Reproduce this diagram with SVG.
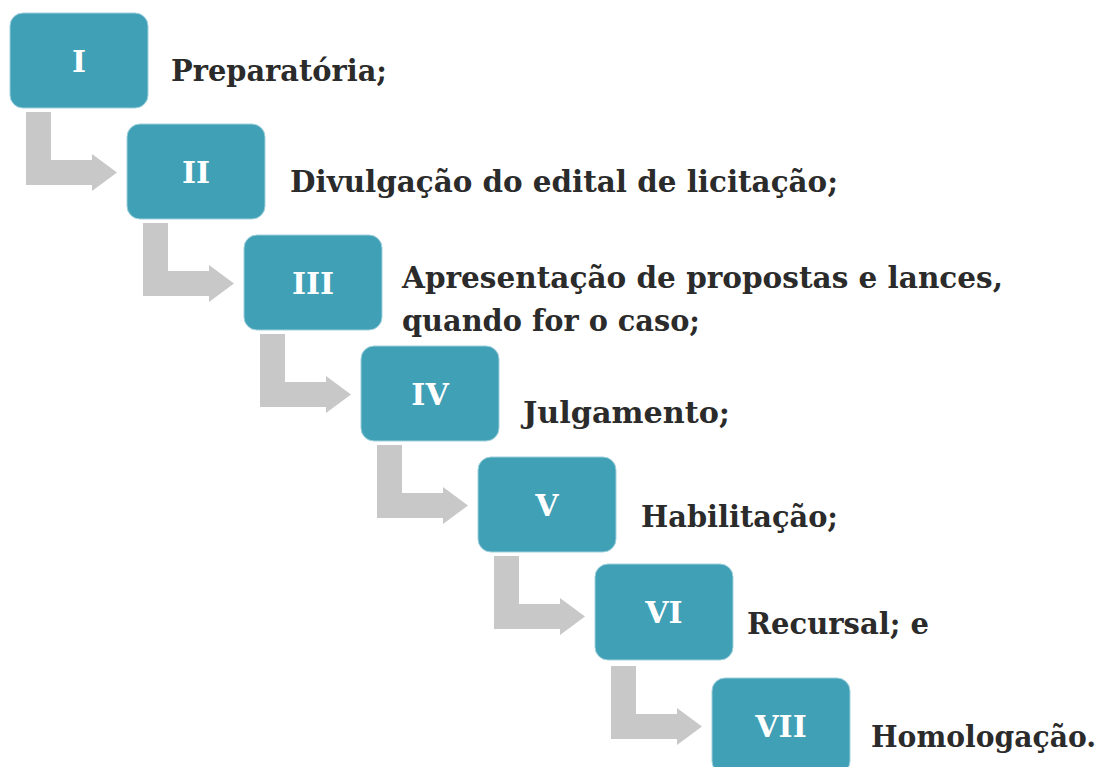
<svg xmlns="http://www.w3.org/2000/svg" width="1105" height="767" viewBox="0 0 1105 767">
<style>
.box{fill:#40A0B6;stroke:#9FD0DC;stroke-width:1}
.num{font-family:"DejaVu Serif","Liberation Serif",serif;font-weight:bold;font-size:30px;fill:#ffffff;text-anchor:middle}
.lbl{font-family:"DejaVu Serif","Liberation Serif",serif;font-weight:bold;font-size:29px;fill:#2B2B2B}
.arr{fill:#C8C8C8}
</style>
<rect width="1105" height="767" fill="#ffffff"/>
<defs>
<path id="bend" d="M16,99 H41 V147 H82 V141 L107,159.5 L82,178 V172 H16 Z"/>
</defs>
<g id="connectors">
<use href="#bend" class="arr" x="10" y="13"/>
<use href="#bend" class="arr" x="127" y="124"/>
<use href="#bend" class="arr" x="244" y="235"/>
<use href="#bend" class="arr" x="361" y="346"/>
<use href="#bend" class="arr" x="478" y="457"/>
<use href="#bend" class="arr" x="595" y="567"/>
</g>
<g id="node1">
<rect class="box" x="10" y="13" width="138" height="95" rx="13"/>
<text class="num" x="79" y="72">I</text>
<text class="lbl" x="171" y="81" textLength="216" lengthAdjust="spacingAndGlyphs">Preparatória;</text>
</g>
<g id="node2">
<rect class="box" x="127" y="124" width="138" height="95" rx="13"/>
<text class="num" x="196" y="183">II</text>
<text class="lbl" x="290" y="192" textLength="548" lengthAdjust="spacingAndGlyphs">Divulgação do edital de licitação;</text>
</g>
<g id="node3">
<rect class="box" x="244" y="235" width="138" height="95" rx="13"/>
<text class="num" x="313" y="294">III</text>
<text class="lbl" x="402" y="288" textLength="601" lengthAdjust="spacingAndGlyphs">Apresentação de propostas e lances,</text>
<text class="lbl" x="402" y="331" textLength="298" lengthAdjust="spacingAndGlyphs">quando for o caso;</text>
</g>
<g id="node4">
<rect class="box" x="361" y="346" width="138" height="95" rx="13"/>
<text class="num" x="430" y="405">IV</text>
<text class="lbl" x="523" y="423" textLength="207" lengthAdjust="spacingAndGlyphs">Julgamento;</text>
</g>
<g id="node5">
<rect class="box" x="478" y="457" width="138" height="95" rx="13"/>
<text class="num" x="547" y="516">V</text>
<text class="lbl" x="641" y="527" textLength="197" lengthAdjust="spacingAndGlyphs">Habilitação;</text>
</g>
<g id="node6">
<rect class="box" x="595" y="564" width="138" height="96" rx="13"/>
<text class="num" x="664" y="623">VI</text>
<text class="lbl" x="747" y="634" textLength="182" lengthAdjust="spacingAndGlyphs">Recursal; e</text>
</g>
<g id="node7">
<rect class="box" x="712" y="678" width="138" height="96" rx="13"/>
<text class="num" x="781" y="737">VII</text>
<text class="lbl" x="871" y="747" textLength="225" lengthAdjust="spacingAndGlyphs">Homologação.</text>
</g>
</svg>
